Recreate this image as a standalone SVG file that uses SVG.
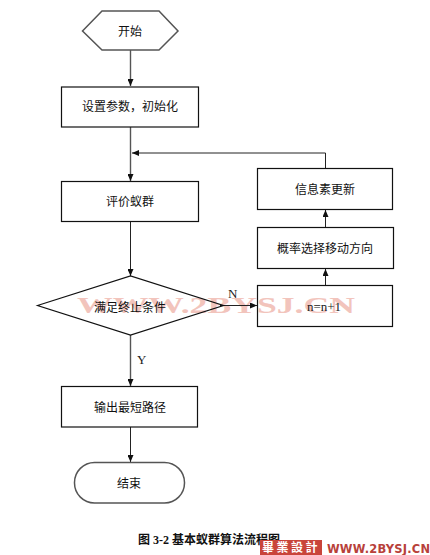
<svg xmlns="http://www.w3.org/2000/svg" width="430" height="555" viewBox="0 0 430 555">
<defs>
<style>
.n{fill:#fff;stroke:#111;stroke-width:1.2}
.o{fill:none}
.g{stroke:#555;stroke-width:1.5}
.c{fill:none;stroke:#222;stroke-width:1;marker-end:url(#a)}
.d{stroke:#555;stroke-width:1.4}
.t{font-family:"Noto Sans CJK SC",sans-serif;font-size:12px;fill:#111;text-anchor:middle}
.l{font-family:"Liberation Serif",serif;font-size:13px;fill:#222}
.w{font-family:"Liberation Serif",serif;font-size:24px;font-weight:bold;fill:#f2c4bc}
</style>
<marker id="a" viewBox="0 0 7 6" refX="7" refY="3" markerWidth="7" markerHeight="6" markerUnits="userSpaceOnUse" orient="auto"><path d="M0 0L7 3L0 6Z" fill="#111"/></marker>
</defs>
<rect width="430" height="555" fill="#fff"/>
<text class="w" x="77" y="313" textLength="278" lengthAdjust="spacingAndGlyphs">WWW.2BYSJ.CN</text>
<g id="connectors">
<path class="c d" d="M130.500 50V86"/>
<path class="c d" d="M130.500 127V181"/>
<path class="c" d="M325.500 168V153H132"/>
<path class="c" d="M130.500 222V276"/>
<path class="c d" d="M130.500 335V386"/>
<path class="c" d="M130.500 427V462"/>
<path class="c" d="M220 305.500H257"/>
<path class="c" d="M325.500 285V269"/>
<path class="c" d="M325.500 227V210"/>
</g>
<g id="start"><path class="n g" d="M82.500 31L102 11H159L178 31L159 50H102Z"/><text class="t" x="130" y="36">开始</text></g>
<g id="init"><rect class="n" x="61.500" y="87" width="137" height="40"/><text class="t" x="130" y="111">设置参数，初始化</text></g>
<g id="eval"><rect class="n" x="61.500" y="181.500" width="137" height="40"/><text class="t" x="130" y="206">评价蚁群</text></g>
<g id="cond"><path class="n o" d="M37.500 305.500L130.500 276L223.500 305.500L130.500 335Z"/><text class="t" x="130" y="312">满足终止条件</text></g>
<g id="output"><rect class="n" x="61.500" y="386.500" width="136" height="40.500"/><text class="t" x="130" y="412">输出最短路径</text></g>
<g id="end"><rect class="n g" x="74.500" y="462.500" width="110" height="40.500" rx="20" ry="20"/><text class="t" x="129" y="488">结束</text></g>
<g id="update"><rect class="n" x="257.500" y="168.500" width="135" height="41"/><text class="t" x="325" y="194">信息素更新</text></g>
<g id="select"><rect class="n" x="257.500" y="227.500" width="136" height="41"/><text class="t" x="325" y="253">概率选择移动方向</text></g>
<g id="inc"><rect class="n o" x="257.500" y="285.500" width="135" height="41"/><text class="l" x="324" y="311" text-anchor="middle">n=n+1</text></g>
<text class="l" x="228" y="298">N</text>
<text class="l" x="137" y="364">Y</text>
<text x="138" y="544" font-family="'Liberation Serif','Noto Sans CJK SC',serif" font-size="12" font-weight="bold" fill="#111">图 3-2 基本蚁群算法流程图</text>
<rect x="260" y="540" width="62" height="15" fill="#c9443a"/>
<text x="291" y="552" font-family="'Noto Sans CJK TC',sans-serif" font-size="12" font-weight="bold" fill="#fff" text-anchor="middle" letter-spacing="2.500">畢業設計</text>
<text x="327" y="553" font-family="'DejaVu Sans',sans-serif" font-size="11.500" font-weight="bold" fill="#b8413a" textLength="103">WWW.2BYSJ.CN</text>
</svg>
